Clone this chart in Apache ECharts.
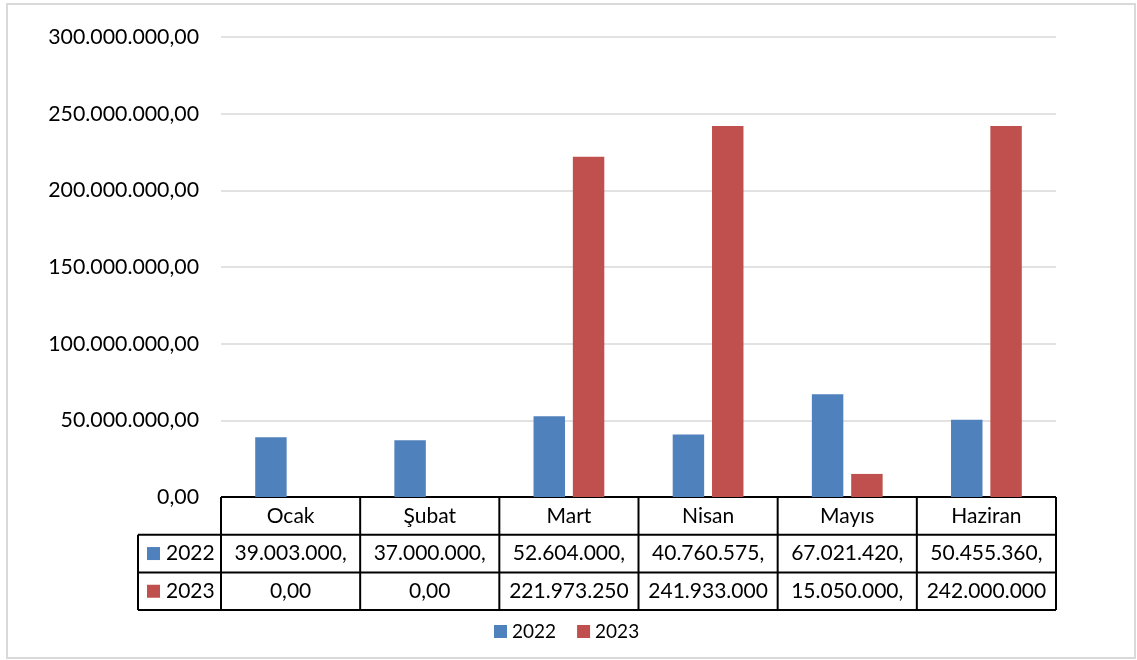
<!DOCTYPE html>
<html><head><meta charset="utf-8">
<script src="https://cdn.jsdelivr.net/npm/echarts@6/dist/echarts.min.js"></script>
<style>html,body{margin:0;padding:0;background:#fff}#c{width:1137px;height:660px}</style>
</head><body><div id="c"></div>
<script>
const months = ['Ocak', 'Şubat', 'Mart', 'Nisan', 'Mayıs', 'Haziran'];
const seriesNames = ['2022', '2023'];
const v2022 = [39003000, 37000000, 52604000, 40760575, 67021420, 50455360];
const v2023 = [0, 0, 221973250, 241933000, 15050000, 242000000];
const colors = ['#4F81BD', '#C0504D'];
const FONT = 'Lato';

function fmt(n) {
  const parts = Math.round(n * 100) / 100;
  const ip = Math.floor(parts).toString().replace(/\B(?=(\d{3})+(?!\d))/g, '.');
  const dec = Math.round((parts - Math.floor(parts)) * 100).toString().padStart(2, '0');
  return ip + ',' + dec;
}
const cell = n => fmt(n).slice(0, 11);

const chart = echarts.init(document.getElementById('c'));
const G = { left: 221, right: 81, top: 37, bottom: 163 };
chart.setOption({
  animation: false,
  textStyle: { fontFamily: FONT },
  grid: G,
  legend: {
    data: seriesNames, left: 494, top: 622, padding: 0, icon: 'rect', itemWidth: 13, itemHeight: 13,
    itemGap: 21, textStyle: { fontSize: 19, color: '#000', fontFamily: FONT }
  },
  xAxis: {
    type: 'category', data: months,
    axisLine: { show: false }, axisTick: { show: false }, axisLabel: { show: false }
  },
  yAxis: {
    type: 'value', min: 0, max: 300000000, interval: 50000000,
    axisLine: { show: false }, axisTick: { show: false },
    axisLabel: { formatter: v => fmt(v), fontSize: 21.3, color: '#000', margin: 22, fontFamily: FONT },
    splitLine: { lineStyle: { color: '#D9D9D9', width: 1.5 } }
  },
  series: [
    { name: seriesNames[0], type: 'bar', data: v2022, itemStyle: { color: colors[0] }, barWidth: '22.6%', barGap: '25%' },
    { name: seriesNames[1], type: 'bar', data: v2023, itemStyle: { color: colors[1] }, barWidth: '22.6%', barGap: '25%' }
  ]
});

// Data table under the plot, positioned from the category axis scale
const c0 = chart.convertToPixel({ xAxisIndex: 0 }, 0);
const c1 = chart.convertToPixel({ xAxisIndex: 0 }, 1);
const band = c1 - c0;
const x0 = c0 - band / 2;
const xEnd = x0 + band * months.length;
const yTop = chart.convertToPixel({ yAxisIndex: 0 }, 0);
const rowH = 37.7;
const rows = [yTop, yTop + rowH, yTop + 2 * rowH, yTop + 3 * rowH];
const leftX = 138;
const lineStyle = { stroke: '#000', lineWidth: 2 };
const els = [];
// outer chart border
els.push({ type: 'rect', shape: { x: 7, y: 4, width: 1128, height: 654 }, style: { fill: null, stroke: '#D9D9D9', lineWidth: 2 }, silent: true });
// horizontal lines
els.push({ type: 'line', shape: { x1: x0, y1: rows[0], x2: xEnd, y2: rows[0] }, style: lineStyle });
for (let r = 1; r < 4; r++) els.push({ type: 'line', shape: { x1: leftX, y1: rows[r], x2: xEnd, y2: rows[r] }, style: lineStyle });
// vertical lines
for (let i = 0; i <= months.length; i++) {
  const x = x0 + band * i;
  els.push({ type: 'line', shape: { x1: x, y1: rows[0], x2: x, y2: rows[3] }, style: lineStyle });
}
els.push({ type: 'line', shape: { x1: leftX, y1: rows[1], x2: leftX, y2: rows[3] }, style: lineStyle });
const txt = (x, y, t, align) => ({ type: 'text', x: x, y: y, style: { text: t, fontSize: 21, fontFamily: FONT, fill: '#000', align: align || 'center', verticalAlign: 'middle' } });
months.forEach((m, i) => {
  const cx = x0 + band * (i + 0.5);
  els.push(txt(cx, (rows[0] + rows[1]) / 2, m));
  els.push(txt(cx, (rows[1] + rows[2]) / 2, cell(v2022[i])));
  els.push(txt(cx, (rows[2] + rows[3]) / 2, cell(v2023[i])));
});
[v2022, v2023].forEach((_, k) => {
  const cy = (rows[k + 1] + rows[k + 2]) / 2;
  els.push({ type: 'rect', shape: { x: 147, y: cy - 6.5, width: 13, height: 13 }, style: { fill: colors[k] } });
  els.push(txt(166, cy, seriesNames[k], 'left'));
});
chart.setOption({ graphic: { elements: els } });
</script></body></html>
